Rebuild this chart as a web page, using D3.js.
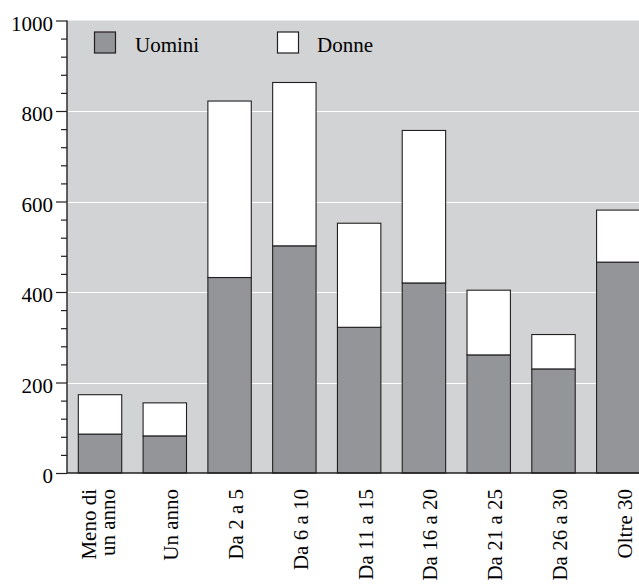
<!DOCTYPE html>
<html>
<head>
<meta charset="utf-8">
<script src="https://cdn.jsdelivr.net/npm/d3@7"></script>
<style>
  html, body { margin: 0; padding: 0; background: #ffffff; }
  svg { display: block; }
  svg text { font-family: "Liberation Serif", "Times New Roman", Tinos, serif !important; }
</style>
</head>
<body>
<svg id="chart" width="639" height="584"></svg>
<script>
const categories = [["Meno di", "un anno"], ["Un anno"], ["Da 2 a 5"], ["Da 6 a 10"], ["Da 11 a 15"], ["Da 16 a 20"], ["Da 21 a 25"], ["Da 26 a 30"], ["Oltre 30"]];
const uomini = [86, 82, 432, 502, 322, 420, 261, 230, 466];
const donne  = [87, 73, 390, 361, 230, 337, 143, 76, 115];
const seriesNames = ["Uomini", "Donne"];
const yTicks = [0, 200, 400, 600, 800, 1000];

const FONT = "Liberation Serif";
const svg = d3.select("#chart");
const plot = { left: 67, top: 20.5, bottom: 473, right: 639 };

const keys = categories.map(c => c.join(" "));
const x = d3.scaleBand().domain(keys).range([67.3, 651]).paddingInner(0.33).paddingOuter(0.17);
const y = d3.scaleLinear().domain([0, 1000]).range([plot.bottom, plot.top]);

const colors = { Uomini: "#939598", Donne: "#ffffff" };
const strokeCol = "#231f20";

svg.append("rect").attr("x", plot.left).attr("y", y(1000)).attr("width", plot.right - plot.left)
  .attr("height", y(0) - y(1000)).attr("fill", "#d1d3d4");

svg.append("g").selectAll("line").data(yTicks.filter(t => t > 0 && t < 1000)).join("line")
  .attr("x1", plot.left).attr("x2", plot.right)
  .attr("y1", d => Math.round(y(d)) + 0.5).attr("y2", d => Math.round(y(d)) + 0.5)
  .attr("stroke", "#ffffff").attr("stroke-width", 1);

const rows = keys.map((k, i) => ({ key: k, Uomini: uomini[i], Donne: donne[i] }));
const stack = d3.stack().keys(seriesNames)(rows);

const gBars = svg.append("g");
stack.forEach(layer => {
  gBars.append("g").selectAll("rect").data(layer).join("rect")
    .attr("x", d => x(d.data.key))
    .attr("y", d => y(d[1]))
    .attr("width", x.bandwidth())
    .attr("height", d => y(d[0]) - y(d[1]))
    .attr("fill", colors[layer.key])
    .attr("stroke", strokeCol)
    .attr("stroke-width", 1.1);
});

const yAxis = d3.axisLeft(y).tickValues(d3.range(0, 1001, 40)).tickSize(6).tickFormat("");
const gy = svg.append("g").attr("transform", `translate(${plot.left},0)`).call(yAxis);
gy.select(".domain").remove();
gy.selectAll(".tick line").attr("stroke", strokeCol).attr("stroke-width", 1.2)
  .attr("x2", d => (d % 200 === 0 ? -11 : -6));
svg.append("line").attr("x1", plot.left).attr("x2", plot.left).attr("y1", y(1000)).attr("y2", y(0))
  .attr("stroke", strokeCol).attr("stroke-width", 1.4);
svg.append("g").selectAll("text").data(yTicks).join("text")
  .attr("x", 53).attr("y", d => y(d)).attr("dy", "0.48em")
  .attr("text-anchor", "end").attr("font-size", 21).attr("fill", "#000")
  .attr("font-family", FONT).style("font-family", FONT)
  .text(d => d);

svg.append("line").attr("x1", plot.left).attr("x2", plot.right).attr("y1", y(0)).attr("y2", y(0))
  .attr("stroke", strokeCol).attr("stroke-width", 1.4);

const gx = svg.append("g");
categories.forEach((lines, i) => {
  const cx = x(keys[i]) + x.bandwidth() / 2;
  const n = lines.length;
  lines.forEach((ln, j) => {
    const off = n === 1 ? 13.5 : (j === 0 ? -4 : 15);
    gx.append("text")
      .attr("transform", `translate(${cx + off},489) rotate(-90)`)
      .attr("text-anchor", "end").attr("font-size", 21).attr("fill", "#000")
      .attr("font-family", FONT).style("font-family", FONT)
      .text(ln);
  });
});

const legend = [
  { name: "Uomini", sx: 94.5, tx: 135 },
  { name: "Donne", sx: 277.5, tx: 317 }
];
legend.forEach(l => {
  svg.append("rect").attr("x", l.sx).attr("y", 32).attr("width", 21).attr("height", 21)
    .attr("fill", colors[l.name]).attr("stroke", strokeCol).attr("stroke-width", 1.2);
  svg.append("text").attr("x", l.tx).attr("y", 52).attr("font-size", 21).attr("fill", "#000")
    .attr("font-family", FONT).style("font-family", FONT).text(l.name);
});
</script>
</body>
</html>
